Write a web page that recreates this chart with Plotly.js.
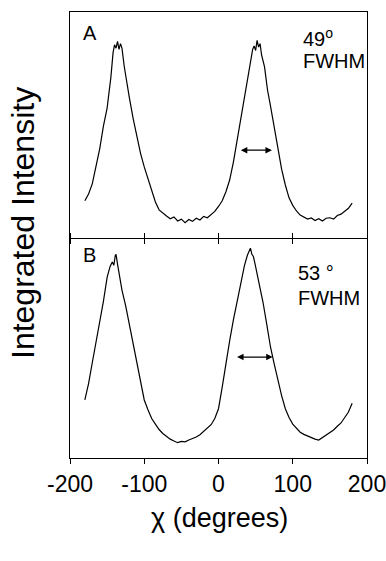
<!DOCTYPE html>
<html>
<head>
<meta charset="utf-8">
<script src="https://cdn.plot.ly/plotly-3.0.1.min.js"></script>
<style>html,body{margin:0;padding:0;background:#fff;}#chart{width:386px;height:561px;}</style>
</head>
<body>
<div id="chart"></div>
<script>
// Panel A: chi (degrees) and integrated intensity (arbitrary units)
var chiA = [-180,-175,-170,-165,-160,-155,-150,-145,-142,-140,-138,-136,-134,-132,-130,-127,-125,-120,-115,-110,-105,-100,-95,-90,-85,-80,-75,-70,-65,-60,-55,-50,-45,-40,-35,-30,-25,-20,-15,-10,-5,0,5,10,15,20,25,30,35,40,43,46,48,50,52,54,56,58,62,66,70,75,80,85,90,95,100,105,110,115,120,125,130,135,140,145,150,155,160,165,170,175,180];
var intA = [16.5,19.5,24.0,31.5,39.5,49.5,57.5,71.0,82.0,85.5,84.0,87.0,83.5,86.0,84.0,76.0,71.5,62.0,53.0,45.0,37.5,31.5,26.5,21.0,16.0,12.5,11.0,9.8,8.6,9.4,7.6,8.4,6.8,8.2,7.4,8.8,8.0,9.6,9.0,10.6,11.8,14.0,16.5,20.5,25.7,33.5,43.0,52.5,62.4,73.0,79.0,83.5,85.0,83.0,87.5,84.5,86.0,81.0,75.7,65.5,58.5,49.5,40.3,30.5,23.5,17.8,14.5,12.0,10.2,9.4,8.4,8.9,7.8,8.6,7.6,8.8,9.0,8.4,10.0,10.6,12.0,13.2,15.5];

// Panel B
var chiB = [-180,-175,-170,-165,-160,-155,-150,-146,-143,-141,-139,-138,-136,-134,-130,-125,-120,-115,-110,-105,-100,-95,-90,-85,-80,-75,-70,-65,-60,-55,-50,-45,-40,-35,-30,-25,-20,-15,-10,-5,0,5,10,15,20,25,30,35,39,41,43,45,47,49,55,60,65,70,75,80,85,90,95,100,105,110,115,120,125,130,135,140,145,150,155,160,165,170,175,180];
var intB = [26.5,34.0,43.5,53.0,61.5,71.5,82.5,87.5,89.5,88.0,92.5,93.0,88.5,84.5,76.7,69.5,61.0,52.0,43.5,35.0,26.5,22.0,18.0,15.5,13.0,11.2,9.8,8.6,7.8,7.0,7.6,7.4,8.2,8.8,9.6,10.6,12.0,13.5,15.2,18.0,22.5,32.4,43.5,53.5,63.0,71.5,80.5,88.0,92.7,94.0,95.8,93.0,92.0,89.0,79.9,71.0,61.0,50.7,43.0,35.6,28.5,22.5,18.5,15.5,13.8,11.8,10.8,10.0,9.2,8.6,8.2,9.4,10.6,12.0,12.8,14.5,16.0,18.5,21.0,25.0];

var xTicks = [-200,-100,0,100,200];
var xTickLabels = ['-200','-100','0','100','200'];
// FWHM arrows: [chi start, chi end, intensity level]
var fwhmA = [28, 72, 38.9];
var fwhmB = [23, 73, 46.1];
var panelLabels = ['A','B'];
var fwhmTexts = ['49<sup>o</sup>', '53 °'];

var FONT = 'Liberation Sans, Arial, Helvetica, sans-serif';
var lineStyle = {color:'#000', width:1.2};

var traces = [
  {x: chiA, y: intA, xaxis:'x2', yaxis:'y2', type:'scatter', mode:'lines', line: lineStyle, hoverinfo:'skip'},
  {x: chiB, y: intB, xaxis:'x', yaxis:'y', type:'scatter', mode:'lines', line: lineStyle, hoverinfo:'skip'}
];

var axX = {
  range:[-200,200], tickmode:'array', tickvals:xTicks, ticktext:xTickLabels,
  showline:true, linecolor:'#000', linewidth:1, mirror:'ticks', ticks:'outside', ticklen:5, tickcolor:'#000',
  showgrid:false, zeroline:false, tickfont:{family:FONT, size:23, color:'#000'}, fixedrange:true,
  ticklabeloverflow:'allow'
};
var axX2 = Object.assign({}, axX, {anchor:'y2', showticklabels:false, mirror:true, ticks:'outside', matches:'x'});
axX.anchor = 'y';

var axY = {range:[0,100], domain:[0,0.491], showline:true, mirror:true, linecolor:'#000', linewidth:1,
  ticks:'', showticklabels:false, showgrid:false, zeroline:false, anchor:'x', fixedrange:true};
var axY2 = Object.assign({}, axY, {domain:[0.493,1], anchor:'x2'});

function arrow(f, xr, yr){
  return {x:f[1], y:f[2], ax:f[0], ay:f[2], xref:xr, yref:yr, axref:xr, ayref:yr,
    text:'', showarrow:true, arrowhead:2, arrowside:'end+start', arrowsize:1, arrowwidth:1.3, arrowcolor:'#000',
    standoff:0, startstandoff:0};
}

var ann = [
  arrow(fwhmA,'x2','y2'),
  arrow(fwhmB,'x','y'),
  {xref:'paper', yref:'paper', x:(81-70)/297, y:(458-33)/446, xanchor:'left', yanchor:'middle', text:panelLabels[0], showarrow:false, font:{family:FONT,size:20,color:'#000'}},
  {xref:'paper', yref:'paper', x:(81-70)/297, y:(458-255)/446, xanchor:'left', yanchor:'middle', text:panelLabels[1], showarrow:false, font:{family:FONT,size:20,color:'#000'}},
  {xref:'paper', yref:'paper', x:(301-70)/297, y:(458-38)/446, xanchor:'left', yanchor:'middle', text:fwhmTexts[0], showarrow:false, font:{family:FONT,size:20,color:'#000'}},
  {xref:'paper', yref:'paper', x:(301-70)/297, y:(458-61)/446, xanchor:'left', yanchor:'middle', text:'FWHM', showarrow:false, font:{family:FONT,size:20,color:'#000'}},
  {xref:'paper', yref:'paper', x:(296-70)/297, y:(458-273)/446, xanchor:'left', yanchor:'middle', text:fwhmTexts[1], showarrow:false, font:{family:FONT,size:20,color:'#000'}},
  {xref:'paper', yref:'paper', x:(296-70)/297, y:(458-298)/446, xanchor:'left', yanchor:'middle', text:'FWHM', showarrow:false, font:{family:FONT,size:20,color:'#000'}},
  {xref:'paper', yref:'paper', x:(219-70)/297, y:(458-518)/446, xanchor:'center', yanchor:'middle', text:'χ (degrees)', showarrow:false, font:{family:FONT,size:27,color:'#000'}},
  {xref:'paper', yref:'paper', x:(23-70)/297, y:(458-223)/446, xanchor:'center', yanchor:'middle', textangle:-90, text:'Integrated Intensity', showarrow:false, font:{family:FONT,size:32,color:'#000'}}
];

var layout = {
  width:386, height:561,
  margin:{l:70, r:19, t:12, b:103, pad:0},
  paper_bgcolor:'#fff', plot_bgcolor:'#fff',
  showlegend:false,
  xaxis: axX, xaxis2: axX2, yaxis: axY, yaxis2: axY2,
  annotations: ann,
  font:{family:FONT, color:'#000'}
};

Plotly.newPlot('chart', traces, layout, {displayModeBar:false, staticPlot:true});
</script>
</body>
</html>
